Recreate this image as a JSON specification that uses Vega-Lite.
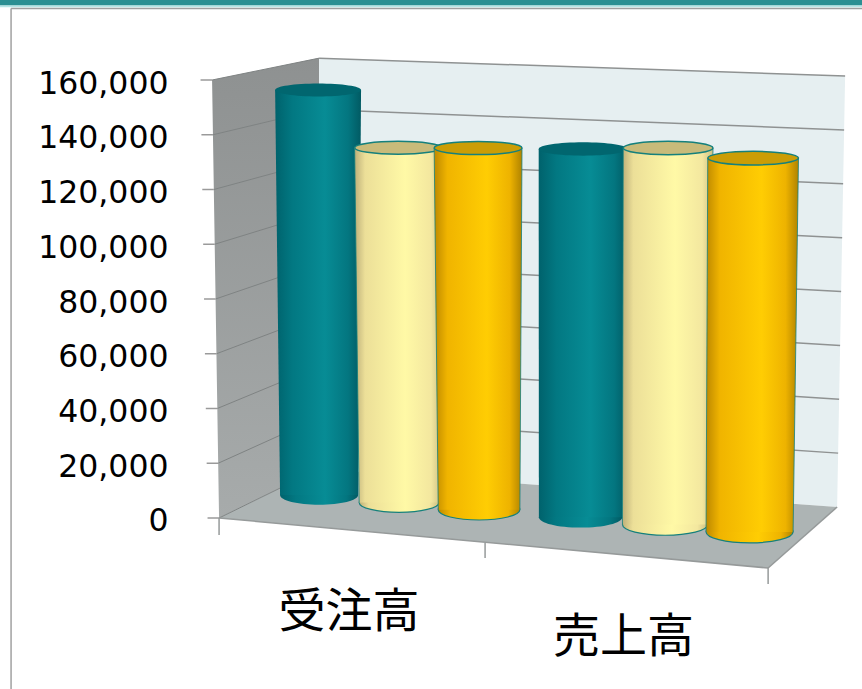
{
  "$schema": "https://vega.github.io/schema/vega-lite/v6.json",
  "width": 862,
  "height": 689,
  "padding": 0,
  "autosize": {"type": "none"},
  "background": "white",
  "view": {"stroke": null},
  "resolve": {"axis": {"y": "independent"}},
  "data": {"values": [
    {"category": "受注高", "series": "系列1", "value": 152500},
    {"category": "受注高", "series": "系列2", "value": 132500},
    {"category": "受注高", "series": "系列3", "value": 134100},
    {"category": "売上高", "series": "系列1", "value": 135400},
    {"category": "売上高", "series": "系列2", "value": 137400},
    {"category": "売上高", "series": "系列3", "value": 135400}
  ]},
  "datasets": {
    "ticks": [
      {"tick": 0}, {"tick": 20000}, {"tick": 40000}, {"tick": 60000}, {"tick": 80000},
      {"tick": 100000}, {"tick": 120000}, {"tick": 140000}, {"tick": 160000}
    ]
  },
  "transform": [
    {"window": [{"op": "row_number", "as": "n"}]},
    {"calculate": "datum.n - 1", "as": "slot"},
    {"calculate": "datum.slot < 3 ? 0.3607 + 0.2914 * datum.slot : 1.326 + 0.3097 * (datum.slot - 3)", "as": "cTop"},
    {"calculate": "datum.slot < 3 ? 0.3643 + 0.2914 * datum.slot : 1.3169 + 0.3078 * (datum.slot - 3)", "as": "cBot"},
    {"calculate": "0.313 + 0.0035 * datum.slot", "as": "wTop"},
    {"calculate": "0.2842 + 0.00656 * datum.slot", "as": "wBot"},
    {"calculate": "8402 - 2703 * datum.slot", "as": "base"},
    {"calculate": "datum.base + datum.value * (0.97 + 0.00776 * datum.slot)", "as": "crown"},
    {"calculate": "datum.cTop - datum.wTop / 2", "as": "topL"},
    {"calculate": "datum.cTop + datum.wTop / 2", "as": "topR"},
    {"calculate": "datum.cBot - datum.wBot / 2", "as": "botL"},
    {"calculate": "datum.cBot + datum.wBot / 2", "as": "botR"}
  ],
  "layer": [
    {
      "description": "Slide frame: title band and thin border",
      "data": {"values": [
        {"x": -0.798, "x2": 2.342, "y": 189224, "y2": 187215, "part": "band"},
        {"x": -0.798, "x2": 2.342, "y": 187215, "y2": 186600, "part": "glow"}
      ]},
      "mark": {"type": "rect"},
      "encoding": {
        "x": {"field": "x", "type": "quantitative", "axis": null, "scale": {"domain": [-0.798, 2.342], "nice": false, "zero": false}},
        "x2": {"field": "x2"},
        "y": {"field": "y", "type": "quantitative", "axis": null, "scale": {"domain": [-62466, 189224], "nice": false, "zero": false}},
        "y2": {"field": "y2"},
        "fill": {"field": "part", "type": "nominal", "legend": null, "scale": {"domain": ["band", "glow"], "range": ["#2b8f92", "#b5e6e6"]}}
      }
    },
    {
      "data": {"values": [
        {"x": -0.7577, "x2": 2.342, "y": 186100, "y2": 186100},
        {"x": -0.7577, "x2": -0.7577, "y": 186100, "y2": -62466}
      ]},
      "mark": {"type": "rule", "color": "#a0a0a0", "strokeWidth": 1.5},
      "encoding": {
        "x": {"field": "x", "type": "quantitative", "axis": null},
        "x2": {"field": "x2"},
        "y": {"field": "y", "type": "quantitative", "axis": null},
        "y2": {"field": "y2"}
      }
    },
    {
      "description": "Side wall",
      "data": {"values": [
        {"x": -0.0255, "y": 160000, "y2": 160000},
        {"x": 0, "y": 160511, "y2": 0},
        {"x": 0.3643, "y": 168038, "y2": 17900}
      ]},
      "mark": {"type": "area", "orient": "vertical", "fill": {"gradient": "linear", "x1": 0, "y1": 0, "x2": 0, "y2": 1, "stops": [{"offset": 0, "color": "#8e9191"}, {"offset": 1, "color": "#a7abab"}]}},
      "encoding": {
        "x": {"field": "x", "type": "quantitative", "axis": null},
        "y": {"field": "y", "type": "quantitative", "axis": null},
        "y2": {"field": "y2"}
      }
    },
    {
      "description": "Back wall",
      "data": {"values": [
        {"x": 0.3643, "y": 168038, "y2": 17900},
        {"x": 2.2514, "y": 161573, "y2": 4018},
        {"x": 2.2805, "y": 161463, "y2": 161463}
      ]},
      "mark": {"type": "area", "orient": "vertical", "fill": "#e6eff1"},
      "encoding": {
        "x": {"field": "x", "type": "quantitative", "axis": null},
        "y": {"field": "y", "type": "quantitative", "axis": null},
        "y2": {"field": "y2"}
      }
    },
    {
      "description": "Floor",
      "data": {"values": [
        {"x": 0, "y": 0, "y2": 0},
        {"x": 0.3643, "y": 17900, "y2": -3324},
        {"x": 2, "y": 5881, "y2": -18265},
        {"x": 2.2514, "y": 4018, "y2": 4018}
      ]},
      "mark": {"type": "area", "orient": "vertical", "fill": "#adb4b4"},
      "encoding": {
        "x": {"field": "x", "type": "quantitative", "axis": null},
        "y": {"field": "y", "type": "quantitative", "axis": null},
        "y2": {"field": "y2"}
      }
    },
    {
      "description": "Gridlines across the back wall",
      "data": {"name": "ticks"},
      "transform": [
        {"filter": "datum.tick > 0"},
        {"calculate": "17900 + 0.938 * datum.tick", "as": "y1"},
        {"calculate": "4018 + 0.984 * datum.tick", "as": "y2"},
        {"calculate": "2.2514 + 0.0291 * datum.tick / 160000", "as": "xEnd"},
        {"calculate": "0.3643", "as": "xStart"}
      ],
      "mark": {"type": "rule", "color": "#8f9292", "strokeWidth": 1.5},
      "encoding": {
        "x": {"field": "xStart", "type": "quantitative", "axis": null},
        "x2": {"field": "xEnd"},
        "y": {"field": "y1", "type": "quantitative", "axis": null},
        "y2": {"field": "y2"}
      }
    },
    {
      "description": "Gridlines across the side wall",
      "data": {"name": "ticks"},
      "transform": [
        {"calculate": "-0.0255 * datum.tick / 160000", "as": "xStart"},
        {"calculate": "0.3643", "as": "xEnd"},
        {"calculate": "17900 + 0.938 * datum.tick", "as": "yEnd"}
      ],
      "mark": {"type": "rule", "color": "#7f8383", "strokeWidth": 1},
      "encoding": {
        "x": {"field": "xStart", "type": "quantitative", "axis": null},
        "x2": {"field": "xEnd"},
        "y": {"field": "tick", "type": "quantitative", "axis": null},
        "y2": {"field": "yEnd"}
      }
    },
    {
      "description": "Value ticks and the value axis labels",
      "data": {"name": "ticks"},
      "transform": [
        {"calculate": "-0.0255 * datum.tick / 160000", "as": "xEnd"},
        {"calculate": "datum.xEnd - 0.042", "as": "xStart"}
      ],
      "mark": {"type": "rule", "color": "#9a9a9a", "strokeWidth": 1.5},
      "encoding": {
        "x": {"field": "xStart", "type": "quantitative", "axis": null},
        "x2": {"field": "xEnd"},
        "y": {
          "field": "tick",
          "type": "quantitative",
          "axis": {
            "orient": "left",
            "offset": -168,
            "values": [0, 20000, 40000, 60000, 80000, 100000, 120000, 140000, 160000],
            "format": ",d",
            "domain": false,
            "ticks": false,
            "grid": false,
            "title": null,
            "labelPadding": 0,
            "labelOffset": 4,
            "labelFont": "DejaVu Sans",
            "labelFontSize": 31.5,
            "labelColor": "#000000"
          }
        }
      }
    },
    {
      "description": "Front and right floor edges, with the category ticks",
      "data": {"values": [
        {"x": 0, "x2": 2, "y": 0, "y2": -18265},
        {"x": 2, "x2": 2.2514, "y": -18265, "y2": 4018},
        {"x": 0, "x2": 0, "y": 0, "y2": -6210},
        {"x": 0.969, "x2": 0.969, "y": -9132, "y2": -14612},
        {"x": 2, "x2": 2, "y": -18265, "y2": -24110}
      ]},
      "mark": {"type": "rule", "color": "#969a9a", "strokeWidth": 1.5},
      "encoding": {
        "x": {"field": "x", "type": "quantitative", "axis": null},
        "x2": {"field": "x2"},
        "y": {"field": "y", "type": "quantitative", "axis": null},
        "y2": {"field": "y2"}
      }
    },
    {
      "description": "Series 1 cylinders",
      "transform": [{"filter": "datum.series === '系列1'"}],
      "layer": [
        {
          "mark": {"type": "point", "filled": true, "opacity": 1, "shape": "M-1,0 A1,0.25 0 1,1 1,0 A1,0.25 0 1,1 -1,0 Z", "fill": {"gradient": "linear", "x1": 0, "y1": 0, "x2": 1, "y2": 0, "stops": [{"offset": 0, "color": "#00626c"}, {"offset": 0.2, "color": "#027882"}, {"offset": 0.58, "color": "#078c95"}, {"offset": 0.85, "color": "#037680"}, {"offset": 1, "color": "#015a63"}]}},
          "encoding": {
            "x": {"field": "cBot", "type": "quantitative", "axis": null},
            "y": {"field": "base", "type": "quantitative", "axis": null},
            "size": {"field": "wBot", "type": "quantitative", "legend": null, "scale": {"type": "pow", "exponent": 2, "domain": [0, 1], "range": [0, 75350]}}
          }
        },
        {
          "transform": [
            {"fold": ["crown", "base"], "as": ["end", "yv"]},
            {"calculate": "datum.end === 'crown' ? datum.topL : datum.botL", "as": "xl"},
            {"calculate": "datum.end === 'crown' ? datum.topR : datum.botR", "as": "xr"}
          ],
          "mark": {"type": "area", "orient": "horizontal", "fill": {"gradient": "linear", "x1": 0, "y1": 0, "x2": 1, "y2": 0, "stops": [{"offset": 0, "color": "#00626c"}, {"offset": 0.2, "color": "#027882"}, {"offset": 0.58, "color": "#078c95"}, {"offset": 0.85, "color": "#037680"}, {"offset": 1, "color": "#015a63"}]}},
          "encoding": {
            "detail": {"field": "slot", "type": "nominal"},
            "y": {"field": "yv", "type": "quantitative", "axis": null},
            "x": {"field": "xl", "type": "quantitative", "axis": null},
            "x2": {"field": "xr"}
          }
        },
        {
          "mark": {"type": "point", "filled": true, "opacity": 1, "shape": "M-1,0 A1,0.15 0 1,1 1,0 A1,0.15 0 1,1 -1,0 Z", "fill": "#01666f"},
          "encoding": {
            "x": {"field": "cTop", "type": "quantitative", "axis": null},
            "y": {"field": "crown", "type": "quantitative", "axis": null},
            "size": {"field": "wTop", "type": "quantitative", "legend": null, "scale": {"type": "pow", "exponent": 2, "domain": [0, 1], "range": [0, 75350]}}
          }
        }
      ]
    },
    {
      "description": "Series 2 cylinders",
      "transform": [{"filter": "datum.series === '系列2'"}],
      "layer": [
        {
          "mark": {"type": "point", "filled": true, "opacity": 1, "stroke": "#15807c", "strokeWidth": 1.2, "shape": "M-1,0 A1,0.25 0 1,1 1,0 A1,0.25 0 1,1 -1,0 Z", "fill": {"gradient": "linear", "x1": 0, "y1": 0, "x2": 1, "y2": 0, "stops": [{"offset": 0, "color": "#bdb07a"}, {"offset": 0.12, "color": "#ecdf98"}, {"offset": 0.58, "color": "#fff9a6"}, {"offset": 0.88, "color": "#f3e79f"}, {"offset": 1, "color": "#cdbf82"}]}},
          "encoding": {
            "x": {"field": "cBot", "type": "quantitative", "axis": null},
            "y": {"field": "base", "type": "quantitative", "axis": null},
            "size": {"field": "wBot", "type": "quantitative", "legend": null, "scale": {"type": "pow", "exponent": 2, "domain": [0, 1], "range": [0, 75350]}}
          }
        },
        {
          "transform": [
            {"fold": ["crown", "base"], "as": ["end", "yv"]},
            {"calculate": "datum.end === 'crown' ? datum.topL : datum.botL", "as": "xl"},
            {"calculate": "datum.end === 'crown' ? datum.topR : datum.botR", "as": "xr"}
          ],
          "mark": {"type": "area", "orient": "horizontal", "fill": {"gradient": "linear", "x1": 0, "y1": 0, "x2": 1, "y2": 0, "stops": [{"offset": 0, "color": "#bdb07a"}, {"offset": 0.12, "color": "#ecdf98"}, {"offset": 0.58, "color": "#fff9a6"}, {"offset": 0.88, "color": "#f3e79f"}, {"offset": 1, "color": "#cdbf82"}]}},
          "encoding": {
            "detail": {"field": "slot", "type": "nominal"},
            "y": {"field": "yv", "type": "quantitative", "axis": null},
            "x": {"field": "xl", "type": "quantitative", "axis": null},
            "x2": {"field": "xr"}
          }
        },
        {
          "mark": {"type": "rule", "color": "#15807c", "strokeWidth": 0.8},
          "encoding": {
            "x": {"field": "topL", "type": "quantitative", "axis": null},
            "x2": {"field": "botL"},
            "y": {"field": "crown", "type": "quantitative", "axis": null},
            "y2": {"field": "base"}
          }
        },
        {
          "mark": {"type": "rule", "color": "#15807c", "strokeWidth": 0.8},
          "encoding": {
            "x": {"field": "topR", "type": "quantitative", "axis": null},
            "x2": {"field": "botR"},
            "y": {"field": "crown", "type": "quantitative", "axis": null},
            "y2": {"field": "base"}
          }
        },
        {
          "mark": {"type": "point", "filled": true, "opacity": 1, "stroke": "#15807c", "strokeWidth": 1.5, "shape": "M-1,0 A1,0.15 0 1,1 1,0 A1,0.15 0 1,1 -1,0 Z", "fill": "#c8bb7a"},
          "encoding": {
            "x": {"field": "cTop", "type": "quantitative", "axis": null},
            "y": {"field": "crown", "type": "quantitative", "axis": null},
            "size": {"field": "wTop", "type": "quantitative", "legend": null, "scale": {"type": "pow", "exponent": 2, "domain": [0, 1], "range": [0, 75350]}}
          }
        }
      ]
    },
    {
      "description": "Series 3 cylinders",
      "transform": [{"filter": "datum.series === '系列3'"}],
      "layer": [
        {
          "mark": {"type": "point", "filled": true, "opacity": 1, "stroke": "#15807c", "strokeWidth": 1.2, "shape": "M-1,0 A1,0.25 0 1,1 1,0 A1,0.25 0 1,1 -1,0 Z", "fill": {"gradient": "linear", "x1": 0, "y1": 0, "x2": 1, "y2": 0, "stops": [{"offset": 0, "color": "#bd8900"}, {"offset": 0.15, "color": "#f0b400"}, {"offset": 0.6, "color": "#ffcd03"}, {"offset": 0.86, "color": "#eeb300"}, {"offset": 1, "color": "#b08300"}]}},
          "encoding": {
            "x": {"field": "cBot", "type": "quantitative", "axis": null},
            "y": {"field": "base", "type": "quantitative", "axis": null},
            "size": {"field": "wBot", "type": "quantitative", "legend": null, "scale": {"type": "pow", "exponent": 2, "domain": [0, 1], "range": [0, 75350]}}
          }
        },
        {
          "transform": [
            {"fold": ["crown", "base"], "as": ["end", "yv"]},
            {"calculate": "datum.end === 'crown' ? datum.topL : datum.botL", "as": "xl"},
            {"calculate": "datum.end === 'crown' ? datum.topR : datum.botR", "as": "xr"}
          ],
          "mark": {"type": "area", "orient": "horizontal", "fill": {"gradient": "linear", "x1": 0, "y1": 0, "x2": 1, "y2": 0, "stops": [{"offset": 0, "color": "#bd8900"}, {"offset": 0.15, "color": "#f0b400"}, {"offset": 0.6, "color": "#ffcd03"}, {"offset": 0.86, "color": "#eeb300"}, {"offset": 1, "color": "#b08300"}]}},
          "encoding": {
            "detail": {"field": "slot", "type": "nominal"},
            "y": {"field": "yv", "type": "quantitative", "axis": null},
            "x": {"field": "xl", "type": "quantitative", "axis": null},
            "x2": {"field": "xr"}
          }
        },
        {
          "mark": {"type": "rule", "color": "#15807c", "strokeWidth": 0.8},
          "encoding": {
            "x": {"field": "topL", "type": "quantitative", "axis": null},
            "x2": {"field": "botL"},
            "y": {"field": "crown", "type": "quantitative", "axis": null},
            "y2": {"field": "base"}
          }
        },
        {
          "mark": {"type": "rule", "color": "#15807c", "strokeWidth": 0.8},
          "encoding": {
            "x": {"field": "topR", "type": "quantitative", "axis": null},
            "x2": {"field": "botR"},
            "y": {"field": "crown", "type": "quantitative", "axis": null},
            "y2": {"field": "base"}
          }
        },
        {
          "mark": {"type": "point", "filled": true, "opacity": 1, "stroke": "#15807c", "strokeWidth": 1.5, "shape": "M-1,0 A1,0.15 0 1,1 1,0 A1,0.15 0 1,1 -1,0 Z", "fill": "#cb9d05"},
          "encoding": {
            "x": {"field": "cTop", "type": "quantitative", "axis": null},
            "y": {"field": "crown", "type": "quantitative", "axis": null},
            "size": {"field": "wTop", "type": "quantitative", "legend": null, "scale": {"type": "pow", "exponent": 2, "domain": [0, 1], "range": [0, 75350]}}
          }
        }
      ]
    },
    {
      "description": "Category names below the floor",
      "data": {"values": [
        {"category": "受注高", "x": 0.4736, "y": -34700},
        {"category": "売上高", "x": 1.4736, "y": -43654}
      ]},
      "mark": {"type": "text", "font": "Noto Sans CJK JP", "fontSize": 47, "color": "#000000", "align": "center", "baseline": "middle"},
      "encoding": {
        "x": {"field": "x", "type": "quantitative", "axis": null},
        "y": {"field": "y", "type": "quantitative", "axis": null},
        "text": {"field": "category", "type": "nominal"}
      }
    }
  ]
}
